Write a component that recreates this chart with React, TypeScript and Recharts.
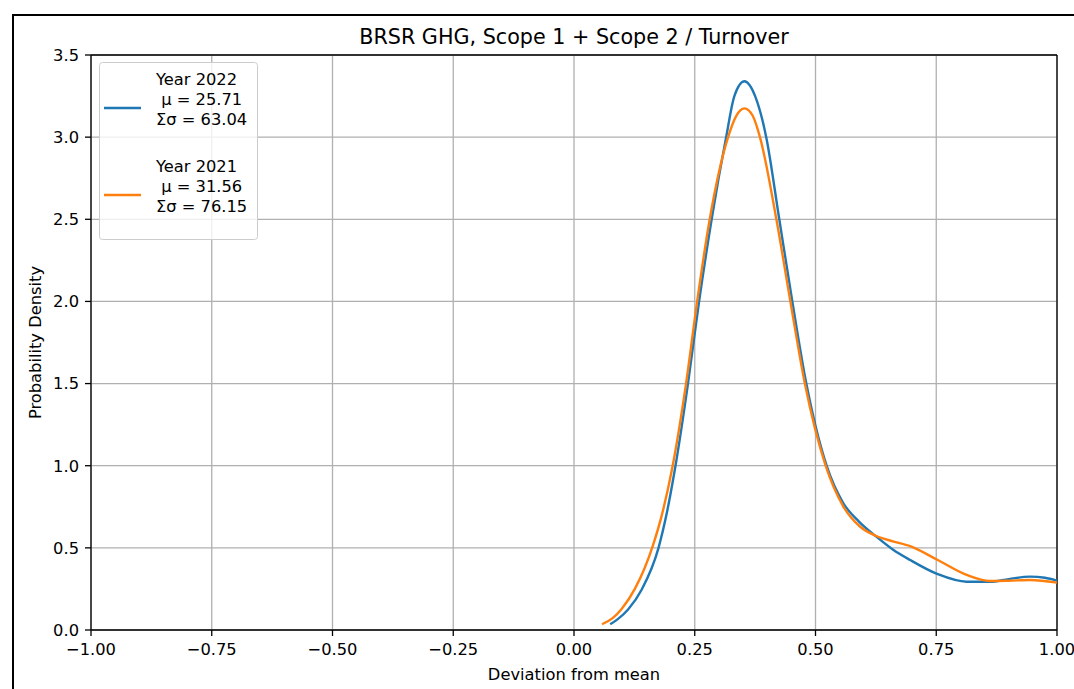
import React from 'react';
import { LineChart, Line, XAxis, YAxis, CartesianGrid, ReferenceLine, Legend } from 'recharts';

const FONT = '"DejaVu Sans", Verdana, sans-serif';

// axis ticks
const xTicks = [-1, -0.75, -0.5, -0.25, 0, 0.25, 0.5, 0.75, 1];
const yTicks = [0, 0.5, 1, 1.5, 2, 2.5, 3, 3.5];

// legend text
const years = ['Year 2022', 'Year 2021'];
const mus = ['25.71', '31.56'];
const sigmas = ['63.04', '76.15'];
const colors = ['#1f77b4', '#ff7f0e'];

// KDE curve, year 2022
const x2022 = [0.075, 0.09, 0.112, 0.14, 0.175, 0.192, 0.209, 0.236, 0.259, 0.285, 0.315, 0.332, 0.353, 0.375, 0.398, 0.425, 0.452, 0.481, 0.523, 0.558, 0.59, 0.626, 0.66, 0.696, 0.753, 0.813, 0.861, 0.9, 0.944, 0.975, 1.0];
const y2022 = [0.035, 0.065, 0.125, 0.245, 0.5, 0.71, 0.98, 1.5, 2.0, 2.5, 3.0, 3.25, 3.34, 3.25, 3.0, 2.5, 2.0, 1.5, 1.0, 0.77, 0.66, 0.568, 0.49, 0.426, 0.34, 0.294, 0.294, 0.31, 0.325, 0.318, 0.3];

// KDE curve, year 2021
const x2021 = [0.058, 0.08, 0.099, 0.126, 0.164, 0.181, 0.203, 0.232, 0.255, 0.281, 0.319, 0.336, 0.353, 0.37, 0.385, 0.419, 0.448, 0.478, 0.521, 0.558, 0.592, 0.626, 0.66, 0.696, 0.753, 0.813, 0.861, 0.9, 0.944, 1.0];
const y2021 = [0.035, 0.072, 0.13, 0.25, 0.52, 0.69, 0.98, 1.5, 2.0, 2.5, 3.0, 3.13, 3.175, 3.13, 3.0, 2.5, 2.0, 1.5, 1.0, 0.75, 0.63, 0.572, 0.54, 0.51, 0.426, 0.335, 0.298, 0.3, 0.304, 0.288];

const toPoints = (xs: number[], ys: number[]) => xs.map((x, i) => ({ x, y: ys[i] }));
const series = [toPoints(x2022, y2022), toPoints(x2021, y2021)];
const seriesNames = years.map((y, i) => `${y}\n μ = ${mus[i]}\nΣσ = ${sigmas[i]}`);

const fmtX = (v: number) => (v < 0 ? '\u2212' + Math.abs(v).toFixed(2) : v.toFixed(2));
const fmtY = (v: number) => v.toFixed(1);

const tickStyle = { fontSize: 16.3, fill: '#000', fontFamily: FONT };

const LegendBox = (props: any) => {
	// keep the plotting order (2022 first), whatever order recharts hands us
	const payload = [...(props.payload || [])].sort(
		(a: any, b: any) => seriesNames.indexOf(String(a.value)) - seriesNames.indexOf(String(b.value))
	);
	return (
		<svg width={160} height={179} style={{ display: 'block', fontFamily: FONT }}>
			<rect x={0.5} y={0.5} width={158} height={177} rx={3} fill="rgba(255,255,255,0.8)" stroke="#cccccc" />
			{payload.map((p: any, i: number) => {
				const lines = String(p.value).split('\n');
				const top = i * 87;
				return (
					<g key={i}>
						<line x1={5} x2={42} y1={top + 46} y2={top + 46} stroke={p.color} strokeWidth={2.4} />
						{lines.map((t, j) => (
							<text key={j} x={57} y={top + 23 + j * 19.8} fontSize={16.3} fill="#000" style={{ whiteSpace: 'pre' }}>
								{t}
							</text>
						))}
					</g>
				);
			})}
		</svg>
	);
};

const App: React.FC = () => {
	return (
		<div style={{ position: 'fixed', left: 0, top: 0, width: 1074, height: 689, background: '#fff', fontFamily: FONT }}>
			<div style={{ position: 'absolute', left: 12, top: 14, right: 0, bottom: 0, borderTop: '2px solid #000', borderLeft: '2px solid #000' }} />
			<svg width={1074} height={60} style={{ position: 'absolute', left: 0, top: 0 }}>
				<text x={574} y={44} textAnchor="middle" fontSize={20.7} fill="#000" fontFamily={FONT}>
					BRSR GHG, Scope 1 + Scope 2 / Turnover
				</text>
			</svg>
			<LineChart width={1074} height={689} margin={{ top: 55, right: 17, bottom: 0, left: 31 }} style={{ position: 'absolute', left: 0, top: 0 }}>
				<CartesianGrid stroke="#b0b0b0" strokeWidth={1.3} />
				<XAxis
					type="number"
					dataKey="x"
					domain={[-1, 1]}
					ticks={xTicks}
					tickFormatter={fmtX}
					allowDataOverflow
					height={59}
					tick={tickStyle}
					tickSize={6}
					tickMargin={7}
					tickLine={{ stroke: '#000', strokeWidth: 1.3 }}
					axisLine={{ stroke: '#000', strokeWidth: 1.3 }}
					label={{
						content: (p: any) => {
							const vb = p.viewBox;
							return (
								<text x={vb.x + vb.width / 2} y={vb.y + 50} textAnchor="middle" fontSize={16.3} fill="#000" fontFamily={FONT}>
									Deviation from mean
								</text>
							);
						},
					}}
				/>
				<YAxis
					type="number"
					domain={[0, 3.5]}
					ticks={yTicks}
					tickFormatter={fmtY}
					allowDataOverflow
					width={60}
					tick={tickStyle}
					tickSize={6}
					tickMargin={6}
					tickLine={{ stroke: '#000', strokeWidth: 1.3 }}
					axisLine={{ stroke: '#000', strokeWidth: 1.3 }}
					label={{
						content: (p: any) => {
							const vb = p.viewBox;
							const cx = vb.x + 10;
							const cy = vb.y + vb.height / 2;
							return (
								<text x={cx} y={cy} transform={`rotate(-90, ${cx}, ${cy})`} textAnchor="middle" fontSize={16.3} fill="#000" fontFamily={FONT}>
									Probability Density
								</text>
							);
						},
					}}
				/>
				<ReferenceLine y={3.5} stroke="#000" strokeWidth={1.3} />
				<ReferenceLine x={1} stroke="#000" strokeWidth={1.3} />
				{series.map((d, i) => (
					<Line
						key={i}
						data={d}
						dataKey="y"
						name={seriesNames[i]}
						type="monotone"
						stroke={colors[i]}
						strokeWidth={2.4}
						dot={false}
						activeDot={false}
						isAnimationActive={false}
					/>
				))}
				<Legend
					layout="horizontal"
					verticalAlign="middle"
					align="center"
					content={LegendBox}
					wrapperStyle={{ left: 99, top: 62, width: 160, height: 179 }}
				/>
			</LineChart>
		</div>
	);
};

export default App;
